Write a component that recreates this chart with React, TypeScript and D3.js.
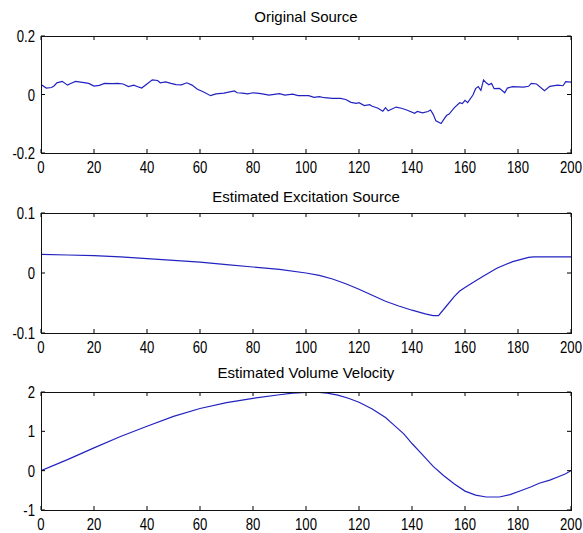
import React from "react";
import * as d3 from "d3";

// ---- Data ----
const xTicks = [0, 20, 40, 60, 80, 100, 120, 140, 160, 180, 200];

const titles = ["Original Source", "Estimated Excitation Source", "Estimated Volume Velocity"];

const srcIdx = [0,2,4,5,6,8,10,11,13,15,18,20,22,24,27,29,31,33,35,37,38,40,42,44,45,47,49,51,53,55,57,59,61,64,66,69,73,74,76,78,80,83,86,90,92,95,97,101,103,105,107,110,113,115,117,119,120,122,124,125,127,129,130,131,134,136,138,141,142,144,146,147,148,149,151,152,153,154,156,158,159,160,161,163,164,165,166,167,168,169,170,171,173,175,176,178,180,182,184,185,187,190,192,195,197,198,200];
const srcVal = [0.034,0.022,0.024,0.030,0.040,0.045,0.032,0.037,0.045,0.042,0.038,0.029,0.031,0.038,0.037,0.038,0.036,0.027,0.032,0.025,0.022,0.036,0.050,0.048,0.040,0.043,0.038,0.034,0.033,0.040,0.032,0.018,0.010,-0.004,0.002,0.005,0.012,0.006,0.005,0.002,0.006,0.003,-0.002,0.003,-0.002,0.001,-0.004,-0.004,-0.010,-0.007,-0.011,-0.013,-0.013,-0.017,-0.027,-0.030,-0.028,-0.038,-0.035,-0.040,-0.046,-0.057,-0.045,-0.056,-0.043,-0.047,-0.053,-0.064,-0.058,-0.063,-0.058,-0.053,-0.068,-0.090,-0.099,-0.085,-0.072,-0.067,-0.045,-0.028,-0.031,-0.020,-0.028,-0.002,0.020,0.027,0.014,0.050,0.040,0.033,0.038,0.020,0.021,0.006,0.022,0.027,0.026,0.025,0.028,0.038,0.036,0.013,0.028,0.032,0.030,0.044,0.042];

const excIdx = [0,10,20,30,40,50,60,70,80,90,100,105,110,115,120,125,130,135,140,145,148,150,153,156,158,160,163,167,172,178,184,186,200];
const excVal = [0.031,0.030,0.029,0.027,0.024,0.021,0.018,0.014,0.010,0.006,0.000,-0.004,-0.010,-0.018,-0.027,-0.037,-0.047,-0.055,-0.062,-0.068,-0.071,-0.071,-0.055,-0.039,-0.030,-0.024,-0.016,-0.005,0.008,0.019,0.026,0.027,0.027];

const velIdx = [0,10,20,30,40,50,60,70,80,90,95,100,105,108,112,116,120,125,130,133,137,140,144,148,152,156,160,164,168,173,177,181,185,188,192,195,198,200];
const velVal = [0,0.28,0.58,0.87,1.13,1.38,1.58,1.73,1.84,1.93,1.97,1.99,1.99,1.97,1.92,1.84,1.74,1.57,1.35,1.17,0.93,0.69,0.40,0.11,-0.13,-0.34,-0.52,-0.62,-0.67,-0.67,-0.61,-0.51,-0.41,-0.32,-0.24,-0.16,-0.08,0];

const yDomains: [number, number][] = [[-0.2, 0.2], [-0.1, 0.1], [-1, 2]];
const yTicks = [[-0.2, 0, 0.2], [-0.1, 0, 0.1], [-1, 0, 1, 2]];
const yTickLabels = [["-0.2", "0", "0.2"], ["-0.1", "0", "0.1"], ["-1", "0", "1", "2"]];

const series = [
  { idx: srcIdx, val: srcVal },
  { idx: excIdx, val: excVal },
  { idx: velIdx, val: velVal },
];

// ---- Layout ----
const W = 583, H = 533;
const LEFT = 41, RIGHT = 571;
const panels = [
  { top: 36, bottom: 153, titleY: 22 },
  { top: 213, bottom: 333, titleY: 202 },
  { top: 392, bottom: 510, titleY: 378 },
];
const FONT = "'Liberation Sans', Arial, Helvetica, sans-serif";
const LINE = "#2222c0";
const TICK = 4;

function Label({ x, y, text, anchor }: { x: number; y: number; text: string; anchor: "start" | "middle" | "end" }) {
  return (
    <text
      transform={`translate(${x},${y}) scale(0.82,1)`}
      textAnchor={anchor}
      fontFamily={FONT}
      fontSize={16}
      fill="#000"
    >
      {text}
    </text>
  );
}

function Panel({ k }: { k: number }) {
  const p = panels[k];
  const x = d3.scaleLinear().domain([0, 200]).range([LEFT, RIGHT]);
  const y = d3.scaleLinear().domain(yDomains[k]).range([p.bottom, p.top]);
  const s = series[k];
  const pts: [number, number][] = s.idx.map((v, i) => [v, s.val[i]]);
  const line = d3
    .line<[number, number]>()
    .x((d) => x(d[0]))
    .y((d) => y(d[1]));
  const clipId = `clip${k}`;
  return (
    <g>
      <defs>
        <clipPath id={clipId}>
          <rect x={LEFT} y={p.top} width={RIGHT - LEFT} height={p.bottom - p.top} />
        </clipPath>
      </defs>
      <rect x={LEFT} y={p.top} width={RIGHT - LEFT} height={p.bottom - p.top} fill="#fff" />
      <path d={line(pts) || ""} fill="none" stroke={LINE} strokeWidth={1.2} clipPath={`url(#${clipId})`} />
      {xTicks.map((t) => (
        <g key={`xt${t}`}>
          <line x1={x(t)} x2={x(t)} y1={p.bottom} y2={p.bottom - TICK} stroke="#000" />
          <line x1={x(t)} x2={x(t)} y1={p.top} y2={p.top + TICK} stroke="#000" />
          <Label x={x(t)} y={p.bottom + 19.5} text={String(t)} anchor="middle" />
        </g>
      ))}
      {yTicks[k].map((t, i) => (
        <g key={`yt${t}`}>
          <line x1={LEFT} x2={LEFT + TICK} y1={y(t)} y2={y(t)} stroke="#000" />
          <line x1={RIGHT} x2={RIGHT - TICK} y1={y(t)} y2={y(t)} stroke="#000" />
          <Label x={LEFT - 6} y={y(t) + 6} text={yTickLabels[k][i]} anchor="end" />
        </g>
      ))}
      <rect
        x={LEFT + 0.5}
        y={p.top + 0.5}
        width={RIGHT - LEFT}
        height={p.bottom - p.top}
        fill="none"
        stroke="#111"
        strokeWidth={1}
      />
      <text
        x={(LEFT + RIGHT) / 2}
        y={p.titleY}
        textAnchor="middle"
        fontFamily={FONT}
        fontSize={15}
        fill="#000"
      >
        {titles[k]}
      </text>
    </g>
  );
}

export default function App() {
  return (
    <svg
      width={W}
      height={H}
      style={{ position: "absolute", left: 0, top: 0, background: "#fff" }}
    >
      <rect x={0} y={0} width={W} height={H} fill="#fff" />
      {panels.map((_, k) => (
        <Panel key={k} k={k} />
      ))}
    </svg>
  );
}
